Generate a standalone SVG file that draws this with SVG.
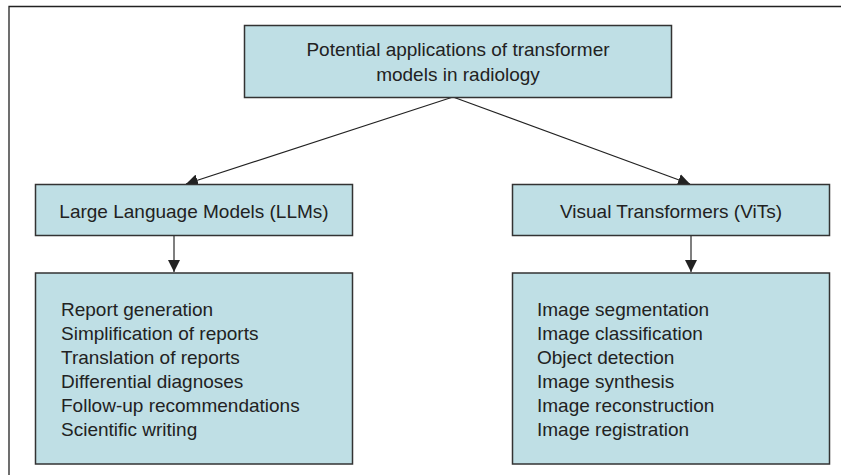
<svg xmlns="http://www.w3.org/2000/svg" width="841" height="475" viewBox="0 0 841 475">
  <style>
    .box { fill: #bfdfe5; stroke: #333333; stroke-width: 1.5; }
    .lbl { font-family: "Liberation Sans", Arial, sans-serif; font-size: 19px; fill: #222222; }
    .mid { text-anchor: middle; }
    .edge { stroke: #222222; stroke-width: 1.1; fill: none; marker-end: url(#arrow); }
    .vedge { stroke: #555555; stroke-width: 1.5; fill: none; marker-end: url(#arrow); }
  </style>
  <defs>
    <marker id="arrow" viewBox="0 0 12 12" refX="12" refY="6" markerWidth="12" markerHeight="12" markerUnits="userSpaceOnUse" orient="auto">
      <path d="M0,0 L12,6 L0,12 z" fill="#222222"/>
    </marker>
  </defs>
  <rect width="841" height="475" fill="#ffffff"/>
  <!-- outer frame -->
  <path d="M9,475 V6.5 H841" fill="none" stroke="#222222" stroke-width="1.3"/>

  <g id="connectors">
    <line class="edge" x1="453" y1="97" x2="186" y2="184"/>
    <line class="edge" x1="453" y1="97" x2="690" y2="184"/>
    <line class="vedge" x1="174" y1="235" x2="174" y2="272"/>
    <line class="vedge" x1="691" y1="235" x2="691" y2="272"/>
  </g>

  <g id="root">
    <rect class="box" x="244.5" y="25.5" width="427" height="72"/>
    <text class="lbl mid" x="458" y="56">Potential applications of transformer</text>
    <text class="lbl mid" x="458" y="81">models in radiology</text>
  </g>

  <g id="llm">
    <rect class="box" x="35.5" y="184.5" width="317" height="51"/>
    <text class="lbl mid" x="194" y="218">Large Language Models (LLMs)</text>
  </g>

  <g id="vit">
    <rect class="box" x="512.5" y="184.5" width="317" height="51"/>
    <text class="lbl mid" x="671" y="218">Visual Transformers (ViTs)</text>
  </g>

  <g id="llm-apps">
    <rect class="box" x="35.5" y="273" width="317" height="191"/>
    <text class="lbl" x="61" y="316">Report generation</text>
    <text class="lbl" x="61" y="340">Simplification of reports</text>
    <text class="lbl" x="61" y="364">Translation of reports</text>
    <text class="lbl" x="61" y="388">Differential diagnoses</text>
    <text class="lbl" x="61" y="412">Follow-up recommendations</text>
    <text class="lbl" x="61" y="436">Scientific writing</text>
  </g>

  <g id="vit-apps">
    <rect class="box" x="512.5" y="273" width="317" height="191"/>
    <text class="lbl" x="537" y="316">Image segmentation</text>
    <text class="lbl" x="537" y="340">Image classification</text>
    <text class="lbl" x="537" y="364">Object detection</text>
    <text class="lbl" x="537" y="388">Image synthesis</text>
    <text class="lbl" x="537" y="412">Image reconstruction</text>
    <text class="lbl" x="537" y="436">Image registration</text>
  </g>
</svg>
